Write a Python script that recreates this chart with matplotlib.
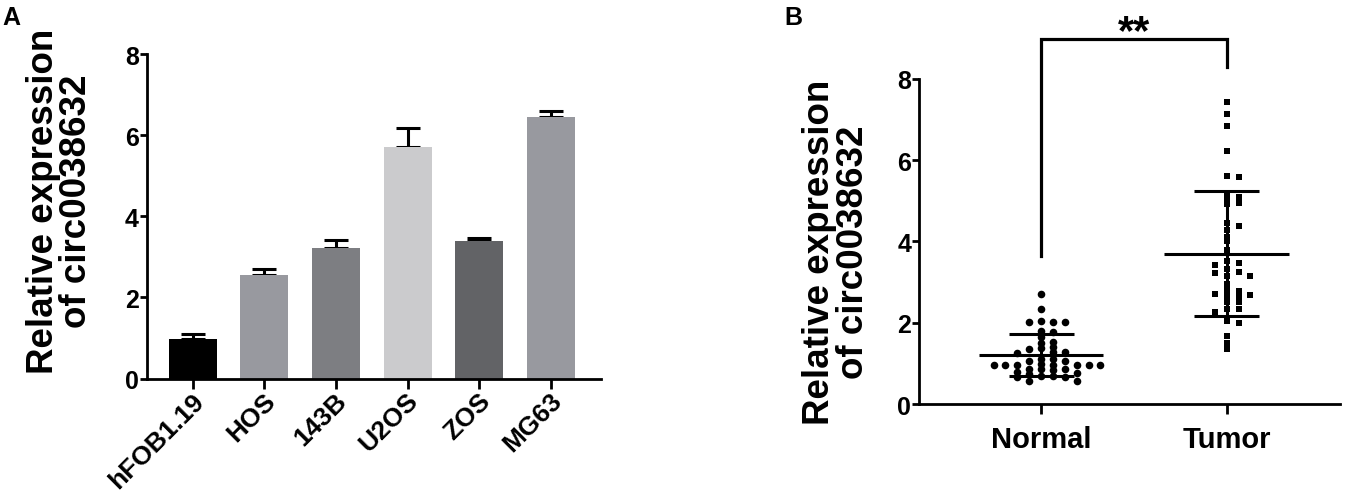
import matplotlib
matplotlib.use("Agg")
import matplotlib.pyplot as plt
from matplotlib.transforms import ScaledTranslation
import numpy as np

plt.rcParams['font.family'] = ['Liberation Sans', 'DejaVu Sans']
plt.rcParams['font.weight'] = 'bold'

# ---- panel A data ----
cell_lines = ['hFOB1.19', 'HOS', '143B', 'U2OS', 'ZOS', 'MG63']
cell_means = [0.98, 2.56, 3.22, 5.71, 3.40, 6.46]
cell_errs = [0.12, 0.15, 0.20, 0.48, 0.07, 0.14]
bar_colors = ['#000000', '#98999f', '#7d7e82', '#cbcbcd', '#626366', '#98999f']

# ---- panel B data ----
groups = ['Normal', 'Tumor']
normal_vals = [2.71, 2.35, 2.05, 2.03, 2.01, 2.01, 1.81, 1.78, 1.64, 1.53, 1.51,
               1.40, 1.37, 1.36, 1.28, 1.27, 1.26, 1.12, 1.11, 1.07, 1.05, 0.98,
               0.97, 0.97, 0.97, 0.97, 0.97, 0.96, 0.96, 0.87, 0.87, 0.86, 0.85,
               0.80, 0.76, 0.75, 0.69, 0.68, 0.67, 0.67, 0.58, 0.58]
tumor_vals = [7.42, 7.14, 6.83, 6.23, 5.62, 5.58, 5.17, 5.10, 5.05, 4.95, 4.92,
              4.45, 4.39, 4.27, 4.12, 4.00, 3.80, 3.51, 3.47, 3.42, 3.33, 3.24,
              3.23, 3.16, 3.15, 2.96, 2.80, 2.78, 2.72, 2.68, 2.66, 2.64, 2.52,
              2.50, 2.35, 2.33, 2.26, 2.05, 2.00, 1.67, 1.50, 1.35]
sig_label = '**'


def swarm_offsets(values, step, min_gap):
    """Column beeswarm: put each point in the nearest column with room."""
    values = np.asarray(values)
    cols = {}
    offs = np.zeros(len(values))
    candidates = [0]
    for k in range(1, 12):
        candidates += [k, -k]
    for i in np.argsort(-values):
        v = values[i]
        for c in candidates:
            if all(abs(v - u) >= min_gap for u in cols.get(c, [])):
                cols.setdefault(c, []).append(v)
                offs[i] = c * step
                break
    return offs


def style_axes(ax):
    for s in ['top', 'right']:
        ax.spines[s].set_visible(False)
    for s in ['left', 'bottom']:
        ax.spines[s].set_linewidth(2.0)
    ax.tick_params(axis='both', width=2.0, labelsize=18)
    ax.tick_params(axis='y', length=5, pad=1)
    ax.tick_params(axis='x', length=7)
    ax.set_ylim(0, 8)
    ax.set_yticks([0, 2, 4, 6, 8])


fig = plt.figure(figsize=(13.52, 5.02), dpi=100)

# Panel A: bar chart with upper error bars
axA = fig.add_axes([0.1087, 0.244, 0.336, 0.646])
x = np.arange(len(cell_lines))
axA.errorbar(x, cell_means, yerr=[np.zeros(len(x)), cell_errs], fmt='none',
             ecolor='black', elinewidth=2.2, capsize=8.3, capthick=2.2, zorder=1)
axA.bar(x, cell_means, width=0.67, color=bar_colors, zorder=2)
style_axes(axA)
axA.set_xlim(-0.64, 5.70)
axA.set_xticks(x)
axA.set_xticklabels(cell_lines, rotation=45, ha='right', va='center',
                    rotation_mode='anchor', fontsize=19)
axA.tick_params(axis='x', pad=6)
shift = ScaledTranslation(7 / 100, 0, fig.dpi_scale_trans)
for lab in axA.get_xticklabels():
    lab.set_transform(lab.get_transform() + shift)
fig.text(60 / 1352, 1 - 201 / 502, 'Relative expression\nof circ0038632',
         rotation=90, ha='center', va='center', fontsize=26.5,
         fontweight='bold', linespacing=0.95)
fig.text(11 / 1352, 1 - 18 / 502, 'A', ha='center', va='center',
         fontsize=18, fontweight='bold')

# Panel B: scatter with mean +/- SD
axB = fig.add_axes([0.680, 0.193, 0.311, 0.648])
markers = ['o', 's']
sizes = [30, 24]
for gi, vals in enumerate([normal_vals, tumor_vals]):
    offs = swarm_offsets(vals, 0.064, 0.12)
    axB.scatter(gi + offs, vals, marker=markers[gi], s=sizes[gi],
                color='black', linewidths=0, zorder=3)
    m = np.mean(vals)
    sd = np.std(vals, ddof=1)
    axB.hlines(m, gi - 0.335, gi + 0.335, color='black', lw=2.2, zorder=4)
    axB.hlines([m - sd, m + sd], gi - 0.175, gi + 0.175, color='black',
               lw=2.2, zorder=4)
    axB.vlines(gi, m - sd, m + sd, color='black', lw=2.2, zorder=4)

style_axes(axB)
axB.set_xlim(-0.656, 1.61)
axB.set_xticks([0, 1])
axB.set_xticklabels(groups, fontsize=21)
axB.tick_params(axis='x', pad=8)

# significance bracket
axB.plot([0, 0, 1, 1], [3.65, 8.99, 8.99, 8.29], color='black', lw=2.3,
         clip_on=False, solid_joinstyle='miter')
axB.text(0.5, 8.88, sig_label, ha='center', va='baseline', fontsize=30,
         fontweight='bold', clip_on=False)

fig.text(836.5 / 1352, 1 - 252 / 502, 'Relative expression\nof circ0038632',
         rotation=90, ha='center', va='center', fontsize=26.5,
         fontweight='bold', linespacing=0.95)
fig.text(793 / 1352, 1 - 18 / 502, 'B', ha='center', va='center',
         fontsize=18, fontweight='bold')

fig.savefig('out.png', dpi=100)
